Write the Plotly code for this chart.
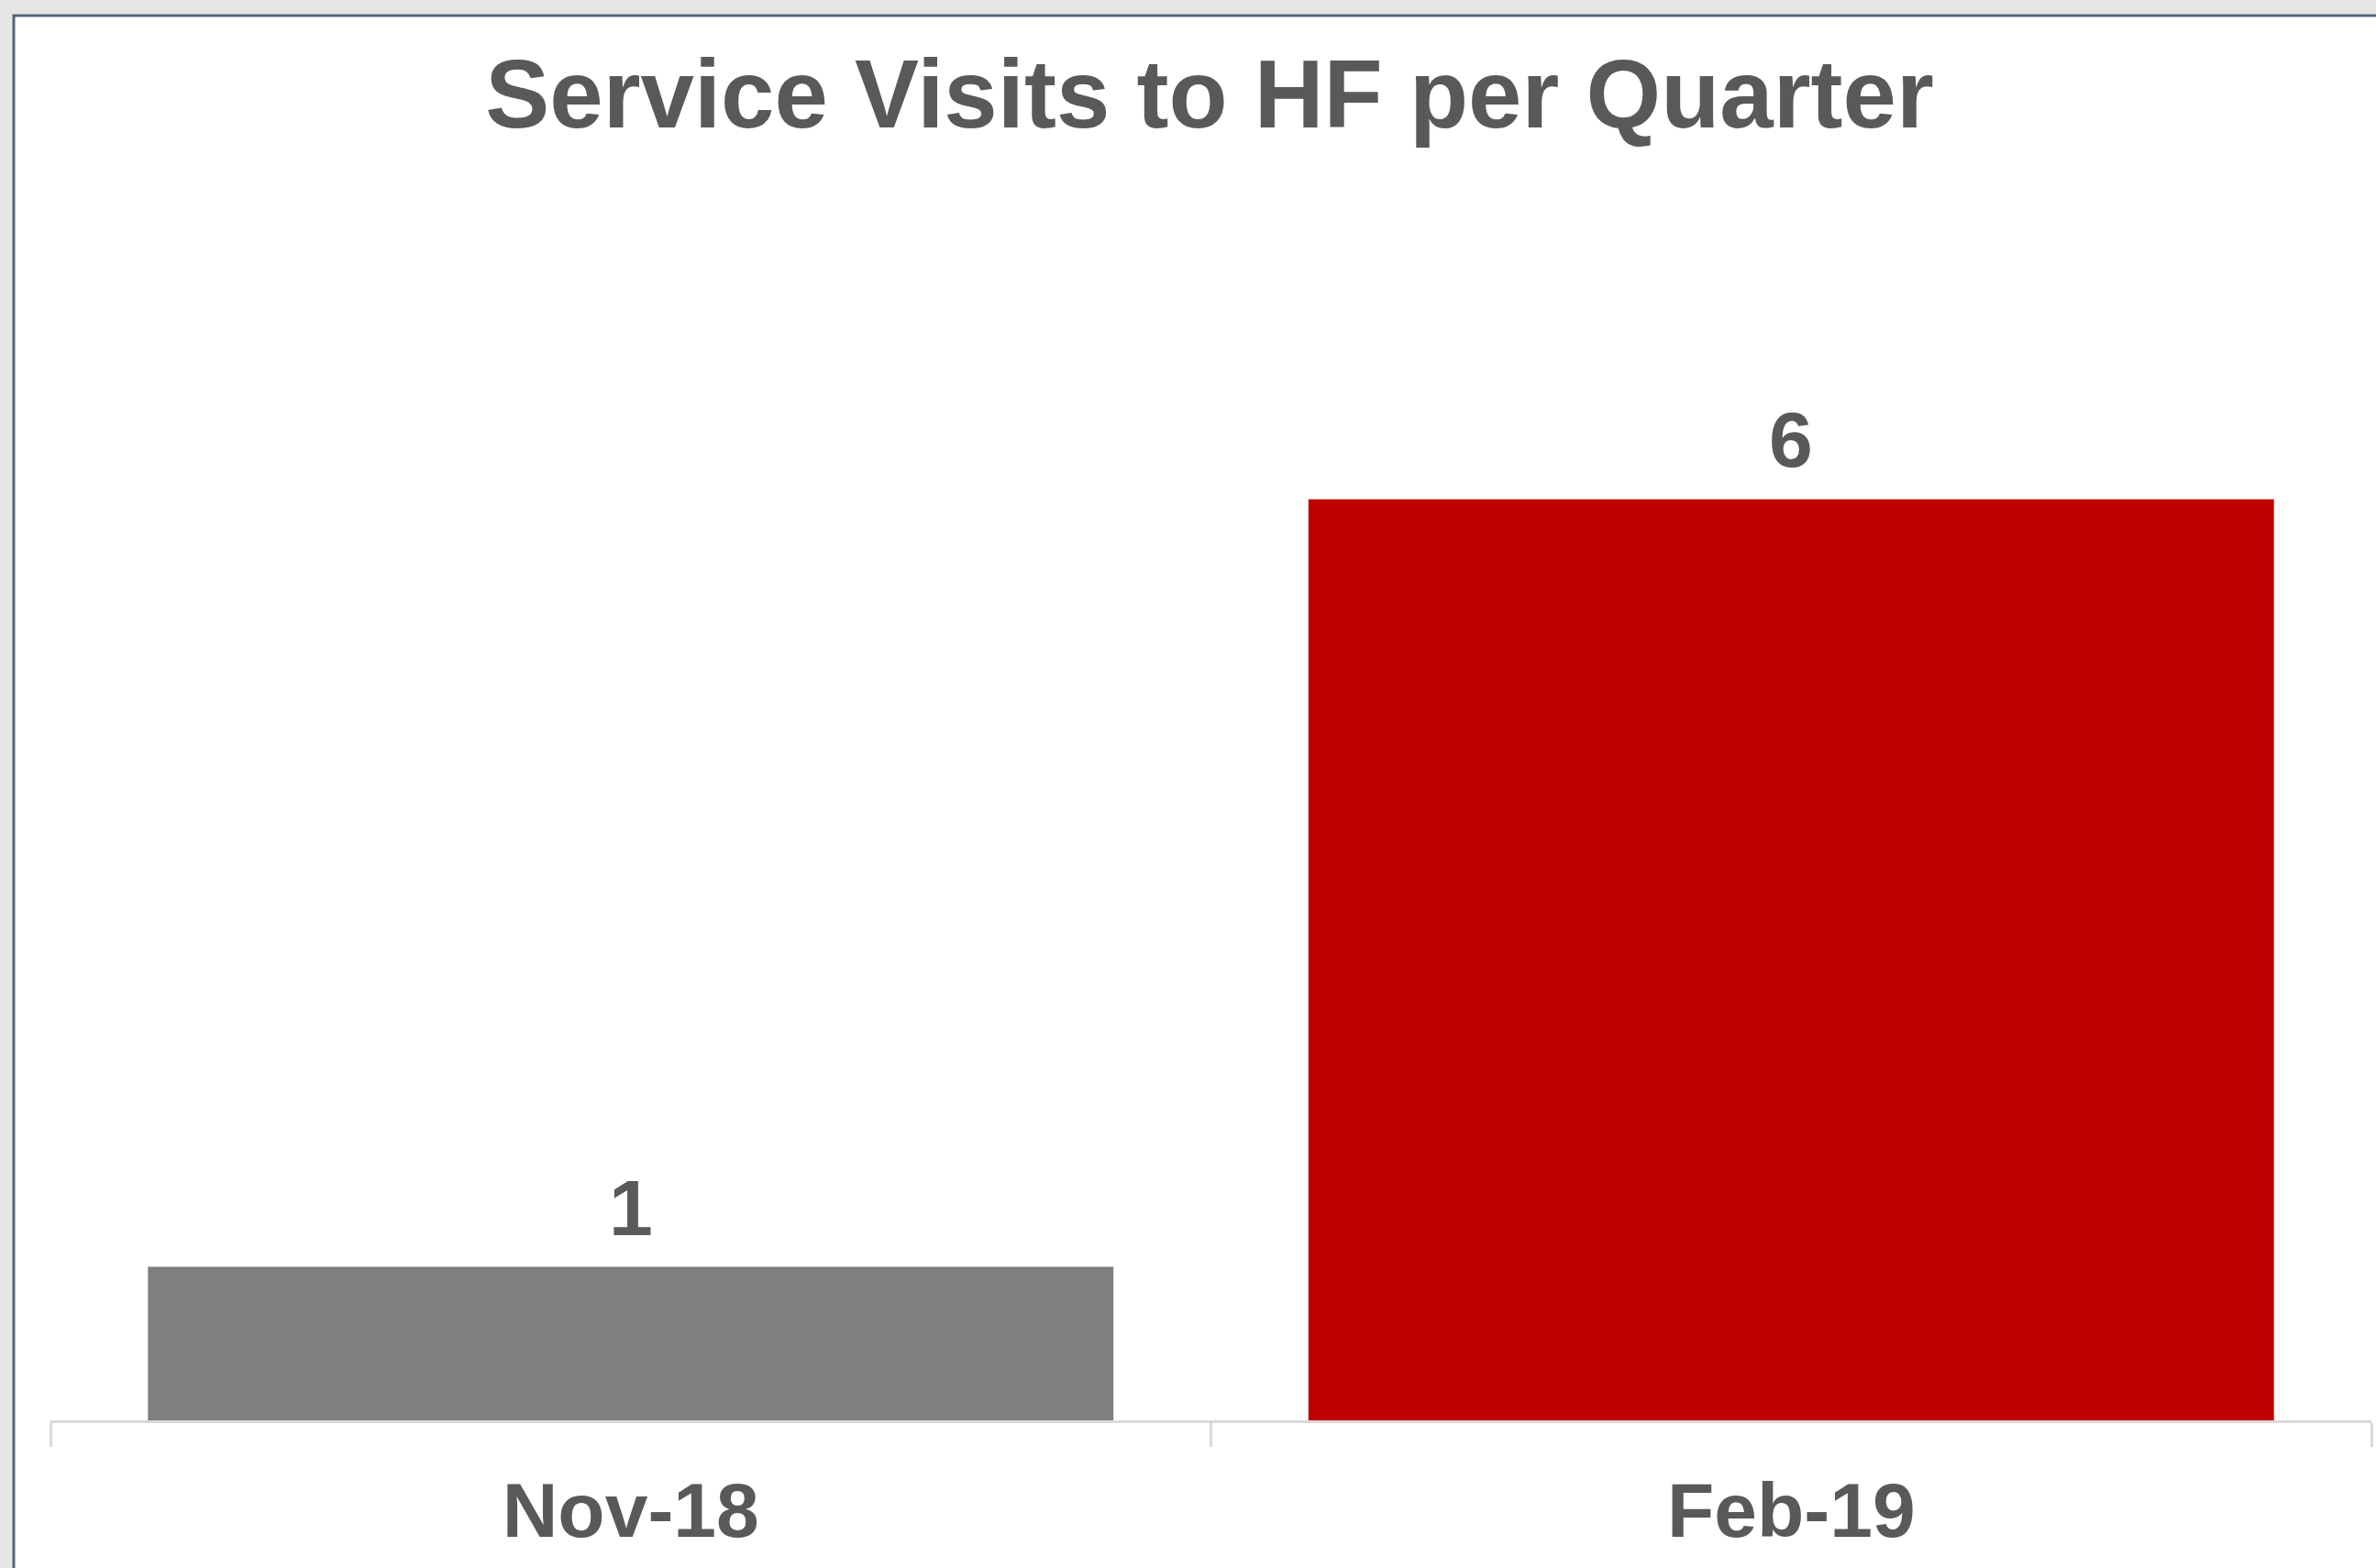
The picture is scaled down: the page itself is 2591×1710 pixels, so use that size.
import plotly.graph_objects as go

# Data
categories = ["Nov-18", "Feb-19"]
values = [1, 6]
bar_colors = ["#7f7f7f", "#c00000"]
title_text = "Service Visits to HF per Quarter"

W, H = 2591, 1710
ML, MR, MT, MB = 55, 5, 377, 161
plot_w = W - ML - MR
plot_h = H - MT - MB

def px_to_paper_x(px):
    return (px - ML) / plot_w

def px_to_paper_y(py):
    return (H - MB - py) / plot_h

FONT = "Liberation Sans, Arial, sans-serif"
TXT = "#595959"

fig = go.Figure()
fig.add_trace(go.Bar(
    x=categories,
    y=values,
    marker=dict(color=bar_colors, line=dict(width=0)),
    hoverinfo="skip",
))

annotations = [
    dict(x=c, y=v, xref="x", yref="y", text=f"<b>{v}</b>", showarrow=False,
         yanchor="bottom", yshift=15,
         font=dict(family=FONT, size=86, color=TXT))
    for c, v in zip(categories, values)
]

fig.update_layout(
    width=W, height=H,
    margin=dict(l=ML, r=MR, t=MT, b=MB, pad=0),
    paper_bgcolor="#e6e6e6",
    plot_bgcolor="rgba(0,0,0,0)",
    showlegend=False,
    bargap=0.168,
    title=dict(
        text=f"<b>{title_text}</b>",
        x=1319 / W, xanchor="center",
        y=1 - 102 / H, yanchor="middle", yref="container",
        font=dict(family=FONT, size=105, color=TXT),
    ),
    xaxis=dict(
        type="category",
        range=[-0.5, 1.5],
        showline=True, linecolor="#d9d9d9", linewidth=3,
        ticks="outside", ticklen=26, tickwidth=3, tickcolor="#d9d9d9",
        tickson="boundaries",
        showgrid=False, zeroline=False,
        tickfont=dict(family=FONT, size=84, color=TXT),
        tickprefix="<b>", ticksuffix="</b>",
        ticklabelstandoff=23,
    ),
    yaxis=dict(
        range=[0, 7],
        showgrid=False, zeroline=False, showline=False,
        showticklabels=False, ticks="",
    ),
    annotations=annotations,
    shapes=[
        dict(type="rect", xref="paper", yref="paper", layer="below",
             x0=px_to_paper_x(15), x1=px_to_paper_x(2620),
             y0=px_to_paper_y(1740), y1=px_to_paper_y(17),
             fillcolor="white", line=dict(color="#56647c", width=3)),
    ],
)

fig.write_html("out.html")
